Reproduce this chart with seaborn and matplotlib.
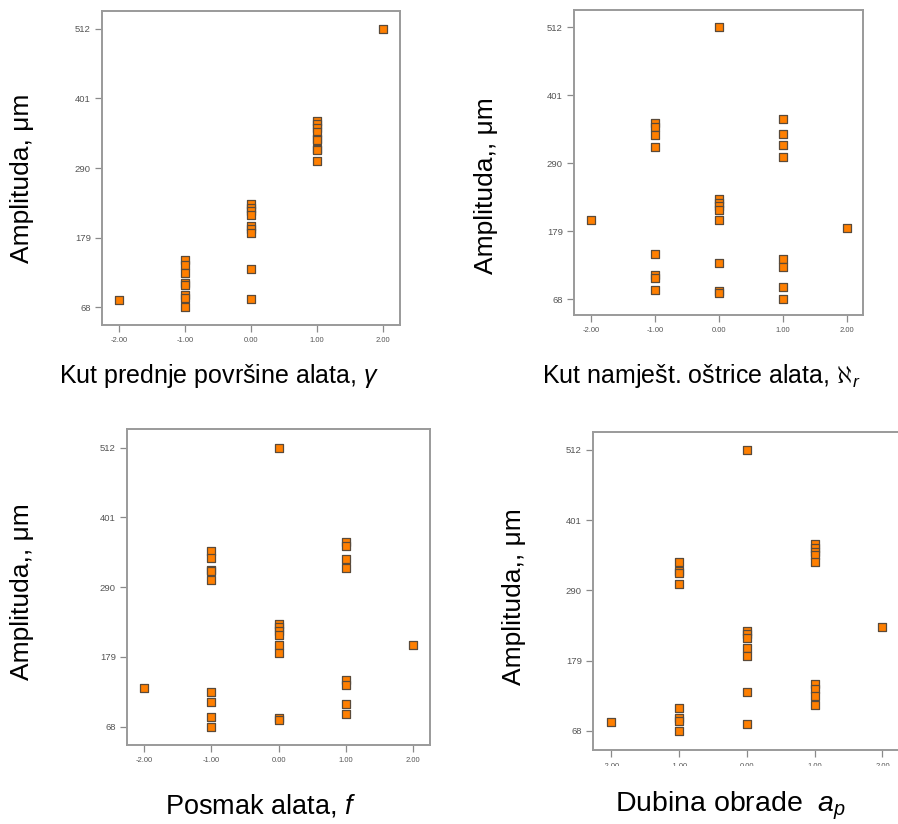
import pandas as pd
import matplotlib.pyplot as plt
import matplotlib.patches as mpatches
import seaborn as sns

# coded factor levels (x) and measured amplitude (y) per factor
x_gamma = [-2] + [-1] * 8 + [0] * 9 + [1] * 9 + [2]
amp_gamma = [80,
             143, 135, 123, 107, 104, 88, 83, 68.5,
             233, 227, 221, 215, 198, 193, 186, 129, 82,
             365, 360, 353, 347, 337, 335, 320, 318, 301,
             512]

x_kr = [-2] + [-1] * 8 + [0] * 9 + [1] * 8 + [2]
amp_kr = [197.5,
          356, 350, 336, 317, 141.5, 107, 103, 84,
          512, 232, 226, 221, 214, 197.5, 128, 81.6, 79,
          363, 337, 320, 300, 134, 121, 87.6, 68,
          185]

x_f = [-2] + [-1] * 9 + [0] * 9 + [1] * 8 + [2]
amp_f = [129,
         348, 336, 318, 316, 301, 123, 108, 84, 68,
         512, 232, 226, 220, 214, 198, 186, 82, 79,
         362, 355, 335, 320, 143, 135, 103.5, 88,
         198]

x_ap = [-2] + [-1] * 8 + [0] * 8 + [1] * 9 + [2]
amp_ap = [82,
          334, 320, 317, 300.5, 104, 89, 84, 68,
          512, 226, 221, 215, 198.5, 186, 129, 79.6,
          363, 357, 351, 346, 335, 142, 135, 123, 108.6,
          232]

x_ticks = [-2, -1, 0, 1, 2]
x_ticklabels = ["-2.00", "-1.00", "0.00", "1.00", "2.00"]
y_ticks = [68, 179, 290, 401, 512]

sns.set_style("white")
plt.rcParams["font.family"] = ["Liberation Sans", "DejaVu Sans"]
plt.rcParams["mathtext.fontset"] = "custom"
plt.rcParams["mathtext.rm"] = "Liberation Sans"
plt.rcParams["mathtext.it"] = "Liberation Sans:italic"

W, H = 898, 824
fig = plt.figure(figsize=(W / 100, H / 100), dpi=100)


def px_axes(left, top, right, bottom):
    return fig.add_axes([left / W, 1 - bottom / H, (right - left) / W, (bottom - top) / H])


def panel(ax, xs, ys, xlim, ylim):
    df = pd.DataFrame({"x": xs, "y": ys})
    sns.scatterplot(data=df, x="x", y="y", ax=ax, marker="s", s=38,
                    color="#ff7f00", edgecolor="#5a4a3a", linewidth=0.9, zorder=3)
    ax.set_xlim(*xlim)
    ax.set_ylim(*ylim)
    ax.set_xticks(x_ticks)
    ax.set_xticklabels(x_ticklabels)
    ax.set_yticks(y_ticks)
    ax.set_xlabel("")
    ax.set_ylabel("")
    for sp in ax.spines.values():
        sp.set_color("#9a9a9a")
        sp.set_linewidth(1.4)
    ax.tick_params(axis="both", direction="out", length=5, width=0.9,
                   color="#8a8a8a", labelcolor="#555555", bottom=True, left=True)
    ax.tick_params(axis="x", labelsize=5.5, pad=4)
    ax.tick_params(axis="y", labelsize=6.8, pad=3)


ax1 = px_axes(102, 11, 400, 325)
panel(ax1, x_gamma, amp_gamma, (-2.258, 2.258), (39.8, 540.2))

ax2 = px_axes(574, 10, 863, 315)
panel(ax2, x_kr, amp_kr, (-2.266, 2.25), (42.4, 540.2))

ax3 = px_axes(127, 429, 430, 745)
panel(ax3, x_f, amp_f, (-2.253, 2.25), (38.9, 541.8))

ax4 = px_axes(593, 432, 915, 750)
panel(ax4, x_ap, amp_ap, (-2.266, 2.48), (38.0, 539.9))

# lower part of the last panel's tick labels is cut off in the source
fig.patches.append(mpatches.Rectangle((585 / W, 1 - 790 / H), 320 / W, 24 / H,
                                      transform=fig.transFigure, facecolor="white",
                                      edgecolor="none", zorder=10))

ylab = dict(fontsize=19, color="black", ha="center", va="center", rotation=90)
fig.text(22 / W, 1 - 178 / H, "Amplituda, \u03bcm", **ylab)
fig.text(486 / W, 1 - 186 / H, "Amplituda,, \u03bcm", **ylab)
fig.text(22 / W, 1 - 592 / H, "Amplituda,, \u03bcm", **ylab)
fig.text(514 / W, 1 - 597 / H, "Amplituda,, \u03bcm", **ylab)

top = dict(fontsize=18, color="black", ha="center", va="center")
fig.text(219 / W, 1 - 376 / H, r"Kut prednje površine alata, $\gamma$", **top)
fig.text(701 / W, 1 - 376 / H, r"Kut namješt. oštrice alata, $\aleph_r$", **top)
bot = dict(fontsize=19.5, color="black", ha="center", va="center")
fig.text(261 / W, 1 - 806 / H, r"Posmak alata, $f$", **bot)
fig.text(731 / W, 1 - 806 / H, r"Dubina obrade  $a_p$", fontsize=20.5,
         color="black", ha="center", va="center")

fig.savefig("out.png", dpi=100)
